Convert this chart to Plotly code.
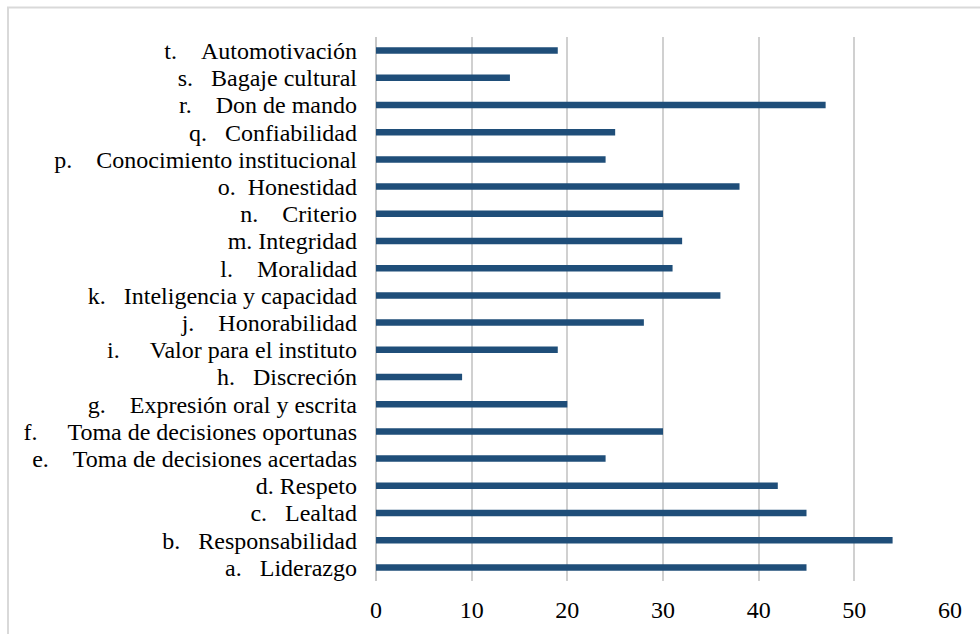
import plotly.graph_objects as go

# Competency labels (list letter + name) and their counts
letters = ["a.", "b.", "c.", "d.", "e.", "f.", "g.", "h.", "i.", "j.",
           "k.", "l.", "m.", "n.", "o.", "p.", "q.", "r.", "s.", "t."]
names = ["Liderazgo", "Responsabilidad", "Lealtad", "Respeto",
         "Toma de decisiones acertadas", "Toma de decisiones oportunas",
         "Expresión oral y escrita", "Discreción", "Valor para el instituto",
         "Honorabilidad", "Inteligencia y capacidad", "Moralidad", "Integridad",
         "Criterio", "Honestidad", "Conocimiento institucional", "Confiabilidad",
         "Don de mando", "Bagaje cultural", "Automotivación"]
values = [45, 54, 45, 42, 24, 30, 20, 9, 19, 28,
          36, 31, 32, 30, 38, 24, 25, 47, 14, 19]
x_ticks = [0, 10, 20, 30, 40, 50, 60]

# tab-like gap between the list letter and the item name
gaps = [3, 3, 3, 1, 4, 5, 4, 3, 5, 4,
        3, 4, 1, 4, 2, 4, 3, 4, 3, 4]
labels = [f"{l}{chr(160) * g}{n}" for l, g, n in zip(letters, gaps, names)]

W, H = 980, 634
ML, MR, MT, MB = 376, 30, 37, 53
PW, PH = W - ML - MR, H - MT - MB

def px_x(px):
    return (px - ML) / PW

def px_y(py):
    return (H - MB - py) / PH

FONT = "Liberation Serif, serif"

fig = go.Figure(
    go.Bar(
        x=values,
        y=labels,
        orientation="h",
        marker=dict(color="#1F4E79", line=dict(width=0)),
        hoverinfo="x+y",
    )
)

fig.update_layout(
    width=W,
    height=H,
    margin=dict(l=ML, r=MR, t=MT, b=MB, pad=0),
    paper_bgcolor="white",
    plot_bgcolor="white",
    bargap=0.76,
    showlegend=False,
    font=dict(family=FONT, size=24, color="#000000"),
    xaxis=dict(
        range=[0, 60],
        tickmode="array",
        tickvals=x_ticks,
        ticktext=[str(v) for v in x_ticks],
        showgrid=True,
        gridcolor="#d0d0d0",
        gridwidth=1.5,
        zeroline=True,
        zerolinecolor="#c8c8c8",
        zerolinewidth=2,
        showline=False,
        ticks="",
        ticklabelstandoff=12,
        tickfont=dict(family=FONT, size=24, color="#000000"),
        fixedrange=True,
    ),
    yaxis=dict(
        type="category",
        categoryorder="array",
        categoryarray=labels,
        tickmode="array",
        tickvals=labels,
        ticktext=labels,
        showgrid=False,
        zeroline=False,
        showline=False,
        ticks="",
        ticklabelstandoff=18,
        tickfont=dict(family=FONT, size=24, color="#000000"),
        fixedrange=True,
    ),
    shapes=[
        dict(
            type="rect",
            xref="paper",
            yref="paper",
            x0=px_x(8),
            x1=px_x(W + 20),
            y0=px_y(H + 20),
            y1=px_y(7.5),
            line=dict(color="#d9d9d9", width=2),
            fillcolor="rgba(0,0,0,0)",
            layer="below",
        )
    ],
)

fig.write_html("out.html")
